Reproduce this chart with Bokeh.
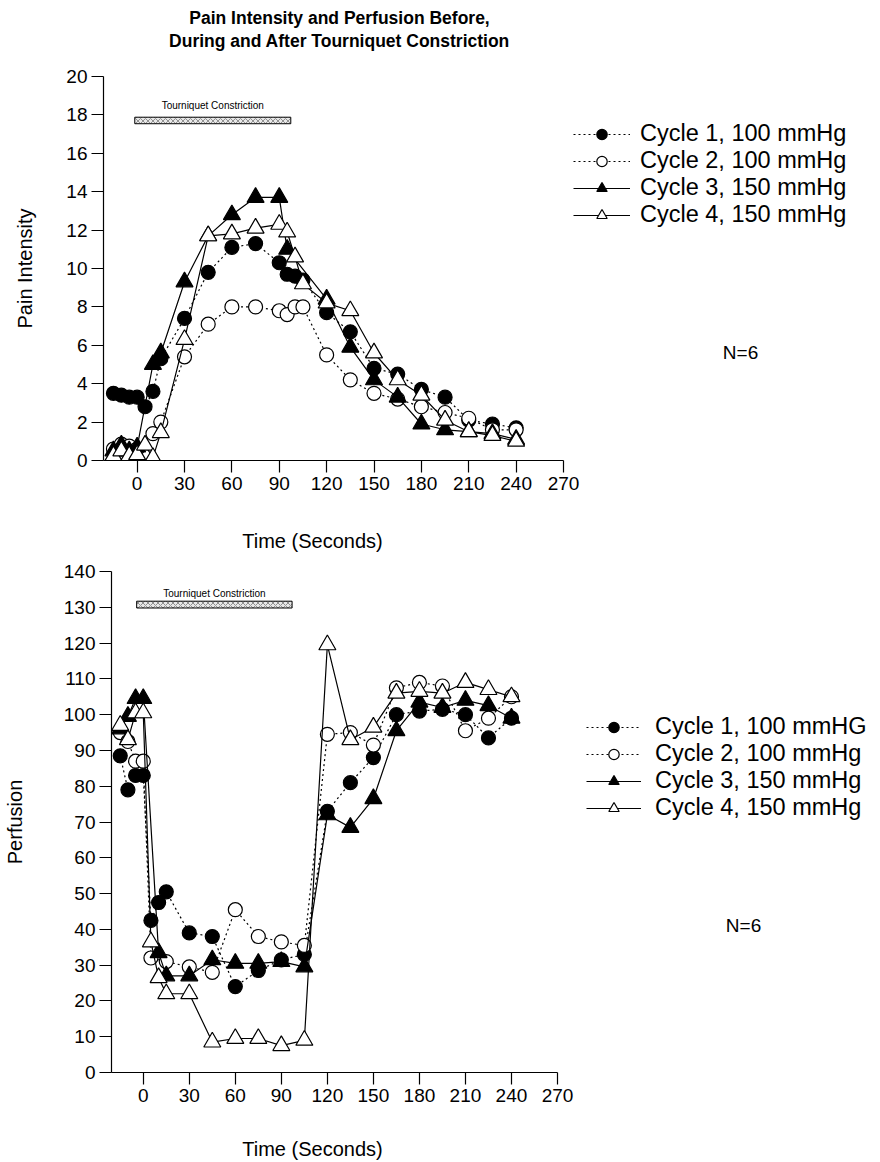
from bokeh.plotting import figure
from bokeh.models import Range1d, FixedTicker, Legend, LegendItem, Label
from bokeh.layouts import column
from bokeh.embed import file_html
from bokeh.resources import INLINE

FONT = "Liberation Sans"

# ---------------- data: pain intensity ----------------
pain_c1_t = [-15, -10, -5, 0, 5, 10, 15, 30, 45, 60, 75, 90, 95, 100, 105, 120, 135, 150, 165, 180, 195, 210, 225, 240]
pain_c1_v = [3.5, 3.4, 3.3, 3.3, 2.8, 3.6, 5.3, 7.4, 9.8, 11.1, 11.3, 10.3, 9.7, 9.6, 9.4, 7.7, 6.7, 4.8, 4.5, 3.7, 3.3, 2.1, 1.9, 1.7]
pain_c2_t = [-15, -10, -5, 0, 10, 15, 30, 45, 60, 75, 90, 95, 100, 105, 120, 135, 150, 165, 180, 195, 210, 225, 240]
pain_c2_v = [0.6, 0.85, 0.75, 0.6, 1.4, 2.0, 5.4, 7.1, 8.0, 8.0, 7.8, 7.6, 8.0, 8.0, 5.5, 4.2, 3.5, 3.2, 2.8, 2.5, 2.2, 1.6, 1.6]
pain_c3_t = [-15, -10, -5, 0, 10, 15, 30, 45, 60, 75, 90, 95, 120, 135, 150, 165, 180, 195, 210, 225, 240]
pain_c3_v = [0.5, 0.8, 0.5, 0.7, 5.0, 5.6, 9.3, 11.7, 12.8, 13.7, 13.7, 11.0, 8.4, 5.9, 4.2, 3.3, 1.9, 1.6, 1.5, 1.4, 1.1]
pain_c4_t = [-15, -10, -5, 0, 5, 10, 15, 30, 45, 60, 75, 90, 95, 100, 105, 120, 135, 150, 165, 180, 195, 210, 225, 240]
pain_c4_v = [0.25, 0.5, 0.25, 0.3, 0.8, 0.15, 1.45, 6.3, 11.7, 11.8, 12.1, 12.3, 11.9, 10.6, 9.2, 8.2, 7.8, 5.6, 4.2, 3.4, 2.1, 1.5, 1.3, 1.0]

# ---------------- data: perfusion ----------------
perf_c1_t = [-15, -10, -5, 0, 5, 10, 15, 30, 45, 60, 75, 90, 105, 120, 135, 150, 165, 180, 195, 210, 225, 240]
perf_c1_v = [88.5, 79, 83, 83, 42.5, 47.5, 50.5, 39, 38, 24, 28.5, 31.5, 33, 73, 81, 88, 100, 101, 101.5, 100, 93.5, 99]
perf_c2_t = [-15, -10, -5, 0, 5, 15, 30, 45, 60, 75, 90, 105, 120, 135, 150, 165, 180, 195, 210, 225, 240]
perf_c2_v = [95, 92.5, 87, 87, 32, 31, 29.5, 28, 45.5, 38, 36.5, 35.5, 94.5, 95, 91.5, 107.5, 109, 108, 95.5, 99, 105]
perf_c3_t = [-15, -10, -5, 0, 10, 15, 30, 45, 60, 75, 90, 105, 120, 135, 150, 165, 180, 195, 210, 225, 240]
perf_c3_v = [96, 99.5, 104.5, 104.5, 33.5, 27, 27, 31.5, 30.5, 30.5, 31, 29.5, 72, 68.5, 76.5, 95.5, 103.5, 102, 104, 102.5, 99]
perf_c4_t = [-15, -10, -5, 0, 5, 10, 15, 30, 45, 60, 75, 90, 105, 120, 135, 150, 165, 180, 195, 210, 225, 240]
perf_c4_v = [97, 93, 100.5, 100.5, 36.5, 26.5, 22, 22, 8.5, 9.5, 9.5, 7.5, 9, 119.5, 93, 96.5, 106, 106.5, 106, 109, 107, 105]

pain_labels = ["Cycle 1, 100 mmHg", "Cycle 2, 100 mmHg", "Cycle 3, 150 mmHg", "Cycle 4, 150 mmHg"]
perf_labels = ["Cycle 1, 100 mmHG", "Cycle 2, 100 mmHg", "Cycle 3, 150 mmHg", "Cycle 4, 150 mmHg"]

x_ticks = [0, 30, 60, 90, 120, 150, 180, 210, 240, 270]
x_max = 270
pain_ticks = list(range(0, 21, 2))
perf_ticks = list(range(0, 141, 10))

tourniquet_pain = (-1.5, 97.3)
tourniquet_perf = (-4.3, 97.0)

title_lines = ["Pain Intensity and Perfusion Before,", "During and After Tourniquet Constriction"]

STYLES = [
    dict(marker="circle", fill="black", dash="2 3", size=14),
    dict(marker="circle", fill="white", dash="2 3", size=14),
    dict(marker="triangle", fill="black", dash="solid", size=17),
    dict(marker="triangle", fill="white", dash="solid", size=17),
]

PAGE_W = 880


def blank_fig(height):
    p = figure(width=PAGE_W, height=height, x_range=Range1d(0, PAGE_W), y_range=Range1d(0, height),
               x_axis_type=None, y_axis_type=None, min_border=0, frame_align=False,
               output_backend="svg", toolbar_location=None)
    p.outline_line_color = None
    p.grid.visible = False
    return p


def make_fig(axis_px, frame_h, left, top, bottom, x0, y1, yticks, ylabel, ylabel_standoff):
    px_per_unit = axis_px / (x_max - x0)
    frame_w = PAGE_W - left
    p = figure(frame_width=frame_w, frame_height=frame_h, frame_align=False,
               min_border_left=left, min_border_top=top, min_border_bottom=bottom,
               min_border_right=0,
               x_range=Range1d(x0, x0 + frame_w / px_per_unit), y_range=Range1d(0, y1),
               output_backend="svg", toolbar_location=None)
    p.outline_line_color = None
    p.grid.visible = False
    for ax in (p.xaxis[0], p.yaxis[0]):
        ax.axis_line_color = "black"
        ax.axis_line_width = 1.2
        ax.major_tick_line_color = "black"
        ax.major_tick_line_width = 1.2
        ax.major_tick_out = 12
        ax.major_tick_in = 0
        ax.minor_tick_line_color = None
        ax.major_label_text_font = FONT
        ax.major_label_text_font_size = "19px"
        ax.major_label_text_color = "black"
        ax.axis_label_text_font = FONT
        ax.axis_label_text_font_size = "20px"
        ax.axis_label_text_font_style = "normal"
        ax.axis_label_text_color = "black"
        ax.major_label_standoff = 4
    p.xaxis[0].ticker = FixedTicker(ticks=x_ticks)
    p.xaxis[0].bounds = (x0, x_max)
    p.yaxis[0].ticker = FixedTicker(ticks=yticks)
    p.yaxis[0].axis_label = ylabel
    p.yaxis[0].axis_label_standoff = ylabel_standoff
    return p


def add_series(p, series, labels, loc, glyph_w, standoff):
    items = []
    for (t, v), st, lab in zip(series, STYLES, labels):
        lr = p.line(t, v, line_color="black", line_width=1.2, line_dash=st["dash"])
        sr = p.scatter(t, v, marker=st["marker"], size=st["size"], fill_color=st["fill"],
                       line_color="black", line_width=1.2)
        items.append(LegendItem(label=lab, renderers=[lr, sr]))
    leg = Legend(items=items, location=loc, orientation="vertical",
                 glyph_width=glyph_w, glyph_height=26, label_height=26,
                 label_standoff=standoff, padding=0, spacing=0, margin=0,
                 border_line_color=None, background_fill_alpha=0,
                 label_text_font=FONT, label_text_font_size="23.5px",
                 label_text_color="black")
    p.add_layout(leg)


def add_tourniquet(p, span, y0, y1, ytxt):
    p.quad(left=[span[0]], right=[span[1]], bottom=[y0], top=[y1],
           fill_color="#e8e8e8", line_color="black", line_width=1,
           hatch_pattern="diagonal_cross", hatch_color="#555555",
           hatch_scale=5, hatch_weight=0.6)
    p.add_layout(Label(x=(span[0] + span[1]) / 2, y=ytxt, text="Tourniquet Constriction",
                       text_align="center", text_baseline="bottom",
                       text_font=FONT, text_font_size="10px", text_color="black"))


def text_label(p, x, y, text, size, style="normal"):
    p.add_layout(Label(x=x, y=y, x_units="screen", y_units="screen", text=text,
                       text_align="center", text_baseline="middle",
                       text_font=FONT, text_font_size=size, text_font_style=style,
                       text_color="black"))


# ---------------- title strip ----------------
t_fig = blank_fig(63)
text_label(t_fig, 339, 46, title_lines[0], "17.5px", "bold")
text_label(t_fig, 339, 23, title_lines[1], "17.5px", "bold")

# ---------------- top: pain intensity ----------------
p1 = make_fig(460, 384, 103, 13, 40, -21.3, 20, pain_ticks, "Pain Intensity", 27)
add_tourniquet(p1, tourniquet_pain, 17.54, 17.88, 18.2)
add_series(p1, [(pain_c1_t, pain_c1_v), (pain_c2_t, pain_c2_v),
                (pain_c3_t, pain_c3_v), (pain_c4_t, pain_c4_v)],
           pain_labels, (470, 232), 57, 10)
text_label(p1, 637, 108, "N=6", "19px")

x1 = blank_fig(55)
text_label(x1, 312, 15, "Time (Seconds)", "20px")

# ---------------- bottom: perfusion ----------------
p2 = make_fig(446, 501, 108, 16, 40, -20.7, 140, perf_ticks, "Perfusion", 35)
add_tourniquet(p2, tourniquet_perf, 129.8, 131.7, 132.3)
add_series(p2, [(perf_c1_t, perf_c1_v), (perf_c2_t, perf_c2_v),
                (perf_c3_t, perf_c3_v), (perf_c4_t, perf_c4_v)],
           perf_labels, (475, 251), 55, 14)
text_label(p2, 632, 147, "N=6", "19px")

x2 = blank_fig(50)
text_label(x2, 312, 14, "Time (Seconds)", "20px")

layout = column(t_fig, p1, x1, p2, x2, spacing=0)
open("out.html", "w").write(file_html(layout, INLINE))
